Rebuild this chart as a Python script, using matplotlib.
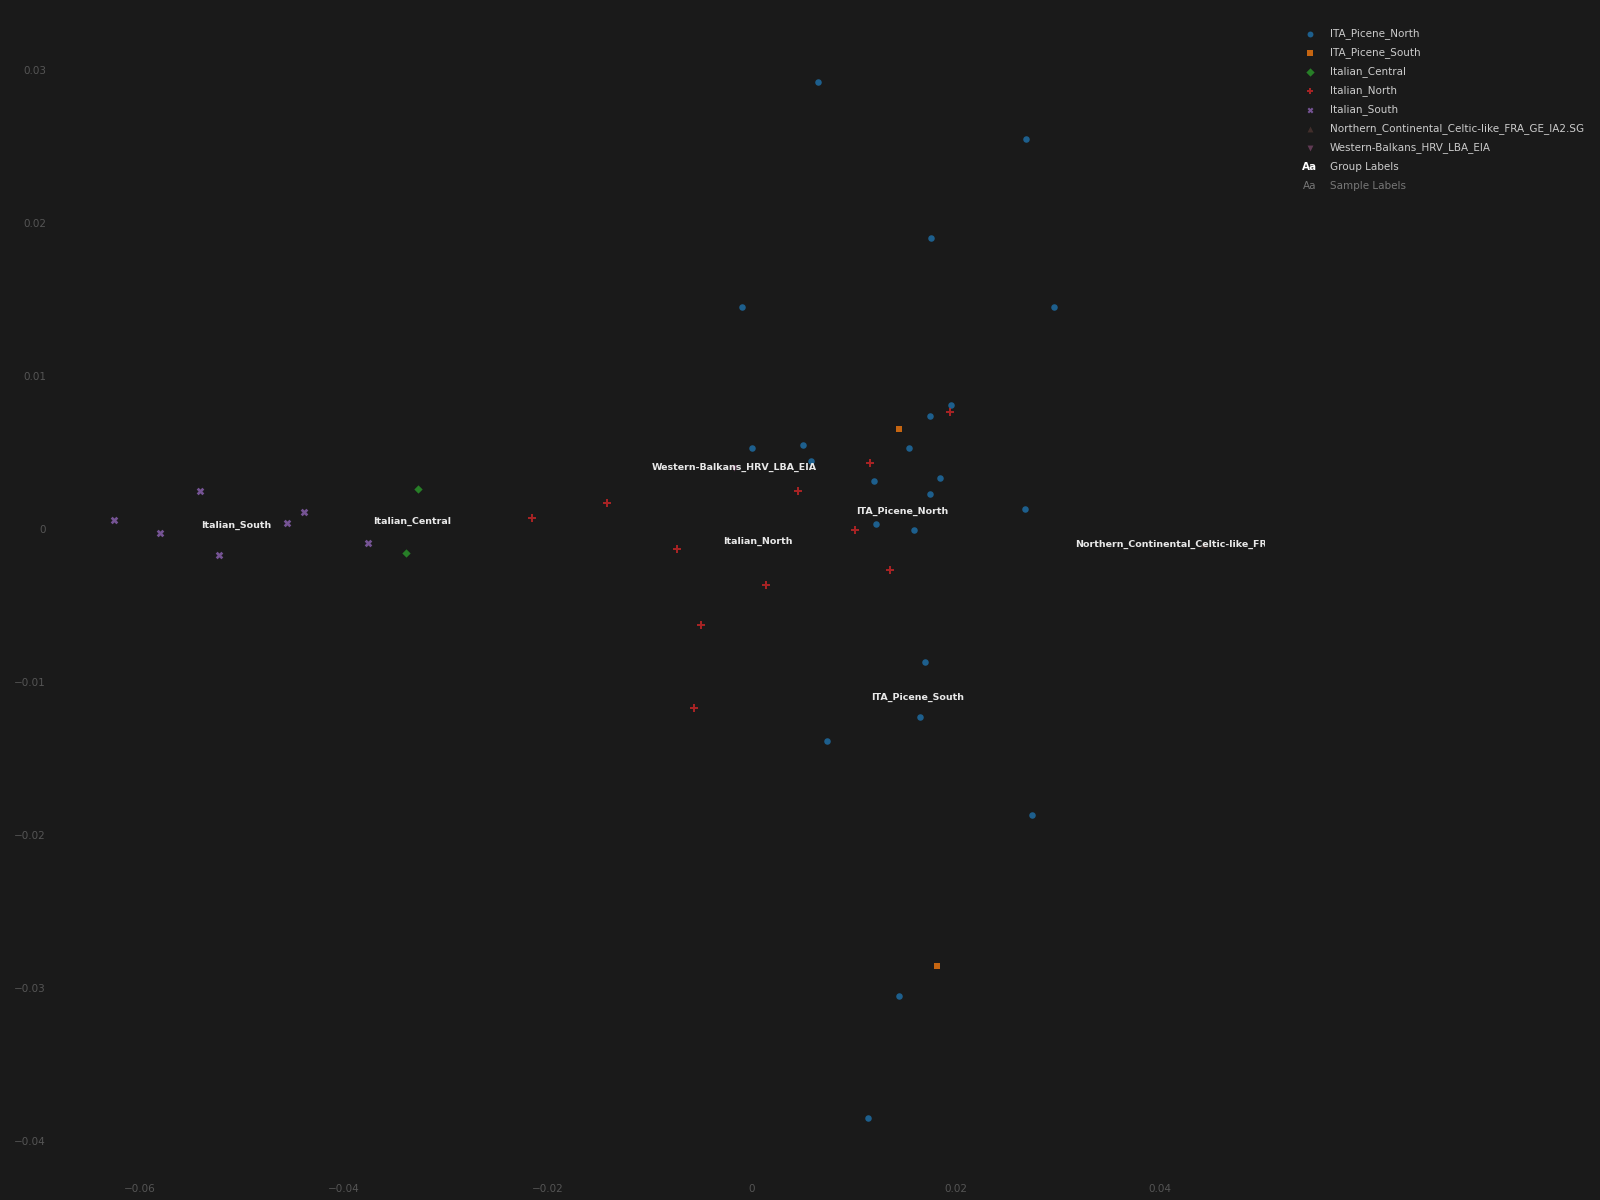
import numpy as np
import matplotlib
matplotlib.use("Agg")
from matplotlib import pyplot as plt
from matplotlib.ticker import FuncFormatter, MultipleLocator

# dati (PC1, PC2)
picene_north_x = [0.0065, 0.0269, 0.0176, -0.0009, 0.0296, 0.0195, 0.0175, 0.0000, 0.0050, 0.0154,
                  0.0058, 0.0120, 0.0185, 0.0175, 0.0268, 0.0122, 0.0159, 0.0170, 0.0165, 0.0074,
                  0.0275, 0.0144, 0.0114]
picene_north_y = [0.0292, 0.0255, 0.0190, 0.0145, 0.0145, 0.0081, 0.0074, 0.0053, 0.0055, 0.0053,
                  0.0044, 0.0031, 0.0033, 0.0023, 0.0013, 0.0003, -0.0001, -0.0087, -0.0123, -0.0139,
                  -0.0187, -0.0305, -0.0385]
picene_south_x = [0.0144, 0.0182]
picene_south_y = [0.0065, -0.0286]
central_x = [-0.0327, -0.0339]
central_y = [0.0026, -0.0016]
north_x = [0.0194, 0.0116, 0.0045, -0.0142, -0.0215, 0.0101, -0.0073, 0.0136, 0.0014, -0.0050, -0.0057]
north_y = [0.0076, 0.0043, 0.0025, 0.0017, 0.0007, -0.0001, -0.0013, -0.0027, -0.0037, -0.0063, -0.0117]
south_x = [-0.0625, -0.0580, -0.0541, -0.0522, -0.0455, -0.0439, -0.0376]
south_y = [0.0006, -0.0003, 0.0025, -0.0017, 0.0004, 0.0011, -0.0009]
celtic_x = [0.04435]
celtic_y = [-0.0010]
balkans_x = [-0.0017]
balkans_y = [0.0040]

groups = ["ITA_Picene_North", "ITA_Picene_South", "Italian_Central", "Italian_North",
          "Italian_South", "Northern_Continental_Celtic-like_FRA_GE_IA2.SG", "Western-Balkans_HRV_LBA_EIA"]
xs = [picene_north_x, picene_south_x, central_x, north_x, south_x, celtic_x, balkans_x]
ys = [picene_north_y, picene_south_y, central_y, north_y, south_y, celtic_y, balkans_y]
colors = ["#1f77b4", "#ff7f0e", "#2ca02c", "#d62728", "#9467bd", "#8c564b", "#e377c2"]
markers = ["o", "s", "D", "P", "X", "^", "v"]
sizes = [22, 24, 18, 36, 30, 20, 20]
alphas = [0.75, 0.75, 0.75, 0.75, 0.75, 0.35, 0.35]

bg = "#1a1a1a"
fig = plt.figure(figsize=(16, 12), dpi=100, facecolor=bg)
ax = fig.add_axes([0.0375, 0.025, 0.753, 0.9667], facecolor=bg)

for g, x, y, c, m, s, a in zip(groups, xs, ys, colors, markers, sizes, alphas):
    ax.scatter(x, y, s=s, c=c, marker=m, alpha=a, linewidths=0, zorder=2)
    # etichetta del gruppo nel baricentro
    ax.text(np.mean(x), np.mean(y), g, color="#e8e8e8", fontsize=6.8, ha="center", va="center",
            fontweight="semibold", clip_on=True, zorder=3)

ax.set_xlim(-0.0678, 0.0503)
ax.set_ylim(-0.0419, 0.0339)
ax.xaxis.set_major_locator(MultipleLocator(0.02))
ax.yaxis.set_major_locator(MultipleLocator(0.01))
fmt = FuncFormatter(lambda v, p: "0" if abs(v) < 1e-12 else ("%g" % v).replace("-", "\u2212"))
ax.xaxis.set_major_formatter(fmt)
ax.yaxis.set_major_formatter(fmt)
ax.tick_params(length=0, colors="#555555", labelsize=7.5, pad=10)
for sp in ax.spines.values():
    sp.set_visible(False)

# legenda disegnata a mano in coordinate pixel
lax = fig.add_axes([0, 0, 1, 1], facecolor="none")
lax.set_xlim(0, 1600)
lax.set_ylim(1200, 0)
lax.axis("off")
row0, step = 34, 19
for i, (g, c, m, a) in enumerate(zip(groups, colors, markers, alphas)):
    yy = row0 + i * step
    lax.scatter([1310], [yy], s=18, c=c, marker=m, alpha=a, linewidths=0)
    lax.text(1330, yy, g, color="#cccccc", fontsize=7.5, va="center", ha="left")
yy = row0 + len(groups) * step
lax.text(1310, yy, "Aa", color="#ffffff", fontsize=7.5, fontweight="bold", va="center", ha="center")
lax.text(1330, yy, "Group Labels", color="#cccccc", fontsize=7.5, va="center", ha="left")
yy += step
lax.text(1310, yy, "Aa", color="#777777", fontsize=7.5, va="center", ha="center")
lax.text(1330, yy, "Sample Labels", color="#777777", fontsize=7.5, va="center", ha="left")

fig.savefig("out.png", dpi=100, facecolor=bg)
